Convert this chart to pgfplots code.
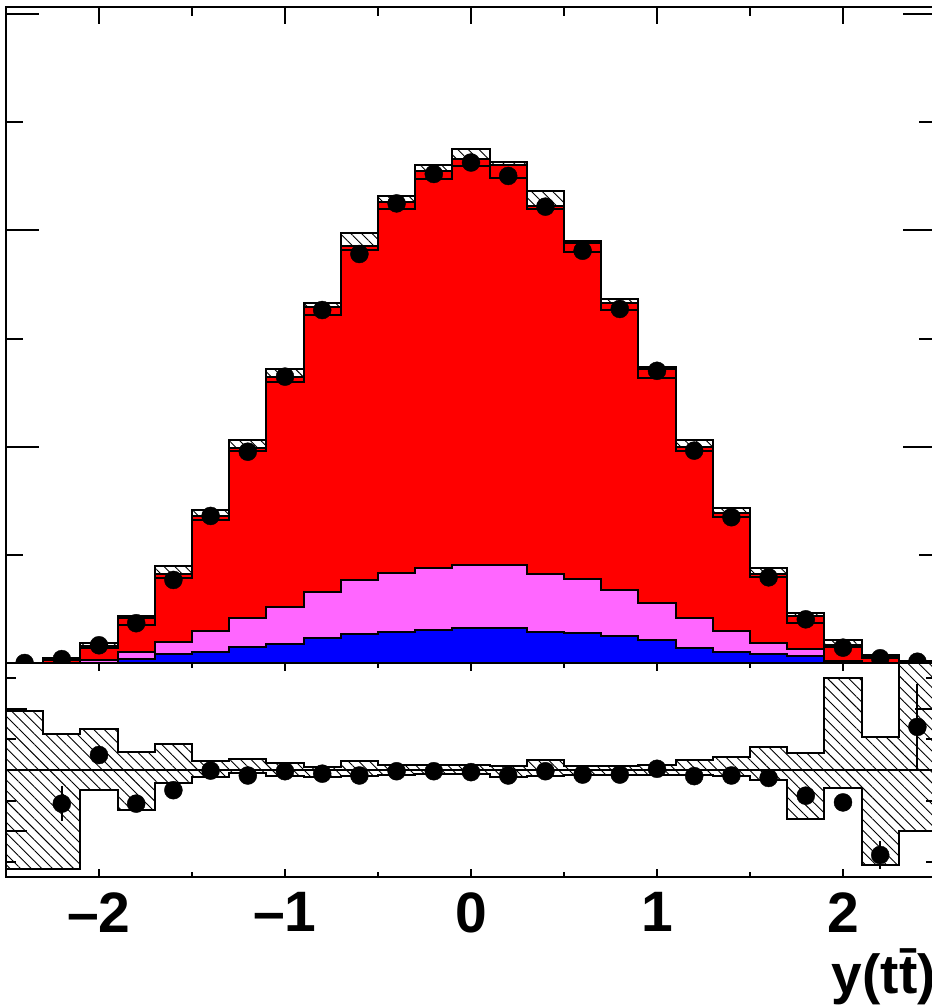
\documentclass[border=0pt]{standalone}
\usepackage{fontspec}
\setmainfont{Liberation Sans}
\usepackage{pgfplots}
\pgfplotsset{compat=1.18}
\usepackage{pgfplotstable}
\usepgfplotslibrary{fillbetween}
\usetikzlibrary{patterns.meta}

\definecolor{rootred}{RGB}{255,0,0}
\definecolor{rootmag}{RGB}{255,102,255}
\definecolor{rootblue}{RGB}{0,0,255}

% bin left edges (last row repeats the last bin), cumulative stack tops,
% uncertainty band (top panel) and band in the ratio panel
\pgfplotstableread{
xl    blue  mag   tot    blo    bhi    rlo    rhi
-2.5  0.00  0.00  0.01   0.00   0.02   0.675  1.193
-2.3  0.00  0.00  0.20   0.14   0.22   0.675  1.117
-2.1  0.02  0.12  0.78   0.70   0.91   0.936  1.135
-1.9  0.17  0.49  2.06   1.78   2.19   0.868  1.060
-1.7  0.40  0.97  4.11   3.92   4.50   0.956  1.084
-1.5  0.52  1.47  6.81   6.61   7.07   0.978  1.031
-1.3  0.75  2.09  9.94   9.80   10.31  0.989  1.035
-1.1  0.86  2.60  13.22  12.99  13.59  0.982  1.024
-0.9  1.14  3.30  16.46  16.09  16.63  0.976  1.009
-0.7  1.34  3.84  19.28  19.09  19.87  0.982  1.029
-0.5  1.43  4.17  21.31  20.99  21.59  0.985  1.016
-0.3  1.53  4.38  22.75  22.38  23.02  0.988  1.016
-0.1  1.60  4.53  23.29  22.98  23.76  0.988  1.016
0.1   1.63  4.53  23.02  22.41  23.18  0.978  1.012
0.3   1.42  4.11  21.13  21.00  21.84  0.980  1.032
0.5   1.40  3.88  19.40  18.99  19.52  0.983  1.012
0.7   1.25  3.37  16.63  16.32  16.81  0.985  1.012
0.9   1.06  2.79  13.58  13.19  13.70  0.985  1.016
1.1   0.71  2.07  10.00  9.82   10.31  0.985  1.032
1.3   0.52  1.48  6.92   6.76   7.15   0.980  1.043
1.5   0.40  0.91  4.11   3.96   4.38   0.966  1.075
1.7   0.32  0.65  2.19   1.84   2.33   0.840  1.057
1.9   0.05  0.11  0.81   0.75   1.06   0.942  1.300
2.1   0.00  0.02  0.30   0.22   0.35   0.689  1.109
2.3   0.00  0.00  0.06   0.05   0.09   0.799  1.500
2.5   0.00  0.00  0.06   0.05   0.09   0.799  1.500
}\hist

% bin centres: data, data/prediction and its error
\pgfplotstableread{
x     d      r      re
-2.4  0.00   nan    0
-2.2  0.18   0.890  0.057
-2.0  0.82   1.049  0
-1.8  1.84   0.890  0
-1.6  3.84   0.934  0
-1.4  6.80   0.998  0
-1.2  9.77   0.982  0
-1.0  13.24  0.996  0
-0.8  16.32  0.988  0
-0.6  18.91  0.982  0
-0.4  21.25  0.996  0
-0.2  22.61  0.996  0
0.0   23.14  0.993  0
0.2   22.52  0.982  0
0.4   21.10  0.996  0
0.6   19.06  0.985  0
0.8   16.37  0.985  0
1.0   13.51  1.004  0
1.2   9.82   0.980  0
1.4   6.74   0.982  0
1.6   3.96   0.974  0
1.8   2.02   0.916  0
2.0   0.71   0.894  0
2.2   0.22   0.722  0.045
2.4   0.06   1.141  0.14
}\pts

\pgfplotsset{
  rootframe/.style={
    scale only axis, width=930pt,
    xmin=-2.5, xmax=2.5,
    xtick={-2,-1,0,1,2}, minor xtick={-1.5,-0.5,0.5,1.5},
    tick align=inside,
    axis line style={line width=2.5pt},
    every tick/.append style={line width=2pt, black},
  },
  hatch/.style={draw=none, pattern={Lines[angle=-45,distance=7.5pt,line width=0.9pt]}, pattern color=black},
  stepline/.style={const plot, draw=black, line width=2pt},
}

\begin{document}
\begin{tikzpicture}
\begin{axis}[rootframe, name=main, at={(0,0)}, anchor=north west,
  height=656pt,
  clip marker paths=true,
  ymin=0, ymax=30.33,
  ytick={0,10,20,30}, minor ytick={5,15,25},
  xticklabels={}, yticklabels={},
  xtick style={/pgfplots/major tick length=17pt, /pgfplots/minor tick length=8.5pt},
  ytick style={/pgfplots/major tick length=33pt, /pgfplots/minor tick length=17pt},
]
\addplot[stepline, fill=rootred] table[x=xl, y=tot] {\hist} \closedcycle;
\addplot[stepline, fill=rootmag] table[x=xl, y=mag] {\hist} \closedcycle;
\addplot[stepline, fill=rootblue] table[x=xl, y=blue] {\hist} \closedcycle;
\addplot[stepline, name path=bhi] table[x=xl, y=bhi] {\hist};
\addplot[stepline, name path=blo] table[x=xl, y=blo] {\hist};
\addplot[hatch] fill between[of=bhi and blo];
\addplot[only marks, mark=*, mark size=9pt, black] table[x=x, y=d] {\pts};
\end{axis}

\begin{axis}[rootframe, name=ratio, at={(main.south west)}, anchor=north west,
  height=214pt,
  clip marker paths=true,
  ymin=0.65, ymax=1.35,
  ytick={0.8,1,1.2}, minor ytick={0.7,0.9,1.1,1.3},
  yticklabels={},
  xticklabels={--2,--1,0,1,2},
  xticklabel style={font=\fontsize{57}{57}\selectfont\bfseries, inner sep=0pt, yshift=-15pt},
  xlabel={y(t\=t)},
  xlabel style={at={(rel axis cs:1,0)}, anchor=base east, inner sep=0pt, yshift=-116pt,
    font=\fontsize{55}{55}\selectfont\bfseries},
  xtick style={/pgfplots/major tick length=8pt, /pgfplots/minor tick length=5pt},
  ytick style={/pgfplots/major tick length=21pt, /pgfplots/minor tick length=10pt},
]
\addplot[stepline, name path=rhi] table[x=xl, y=rhi] {\hist};
\addplot[stepline, name path=rlo] table[x=xl, y=rlo] {\hist};
\addplot[hatch] fill between[of=rhi and rlo];
\addplot[black, line width=1.3pt] coordinates {(-2.5,1) (2.5,1)};
\addplot[only marks, mark=*, mark size=9pt, black,
  error bars/.cd, y dir=both, y explicit, error mark=none,
  error bar style={line width=2pt}]
  table[x=x, y=r, y error=re] {\pts};
\end{axis}

\pgfresetboundingbox
\path[use as bounding box] ([shift={(-6pt,7pt)}]main.north west) rectangle ([shift={(926pt,-1000pt)}]main.north west);
\end{tikzpicture}
\end{document}
